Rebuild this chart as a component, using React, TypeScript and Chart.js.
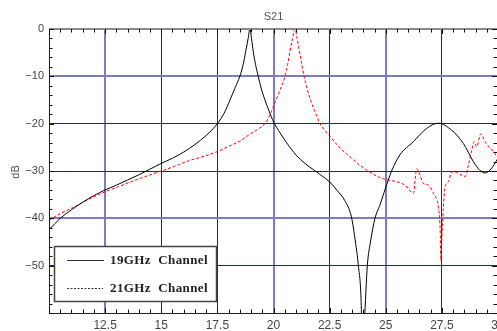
import React, { useEffect, useRef } from 'react';
import { Chart, registerables } from 'chart.js';
Chart.register(...registerables);

const chartTitle = 'S21';
const yAxisLabel = 'dB';
const seriesNames = ['19GHz Channel', '21GHz Channel'];

const xTickValues = [12.5, 15, 17.5, 20, 22.5, 25, 27.5, 30];
const yTickValues = [0, -10, -20, -30, -40, -50];

const ch19Freq = [10.0, 10.5, 11.0, 11.5, 12.0, 12.5, 13.0, 13.5, 14.0, 14.5, 15.0, 15.5, 16.0, 16.5, 17.0, 17.5, 17.8, 18.06, 18.3, 18.5, 18.65, 18.76, 18.87, 18.95, 19.02, 19.1, 19.2, 19.32, 19.45, 19.62, 19.8, 20.0, 20.3, 20.7, 21.0, 21.4, 21.8, 22.15, 22.5, 22.85, 23.17, 23.47, 23.65, 23.78, 23.9, 23.97, 24.05, 24.18, 24.32, 24.52, 24.74, 25.11, 25.26, 25.63, 26.23, 26.82, 27.34, 27.94, 28.46, 28.9, 29.2, 29.42, 29.65, 30.0];
const ch19Db = [-42.4, -40.0, -38.2, -36.6, -35.2, -34.0, -33.0, -31.9, -30.8, -29.6, -28.4, -27.3, -26.0, -24.4, -22.5, -20.0, -17.8, -15.0, -12.3, -10.0, -7.5, -4.8, -2.0, 0.0, -2.0, -4.8, -7.5, -10.0, -12.5, -15.0, -17.3, -19.6, -22.0, -24.8, -26.6, -28.4, -29.8, -31.0, -32.3, -34.2, -36.2, -39.7, -45.0, -50.0, -57.0, -70.0, -62.0, -50.0, -45.0, -40.0, -37.2, -31.9, -30.0, -26.6, -23.8, -21.0, -19.9, -21.4, -24.2, -28.0, -29.9, -30.4, -29.8, -27.3];

const ch21Freq = [10.0, 10.5, 11.2, 11.75, 12.5, 13.1, 13.75, 14.4, 15.0, 15.6, 16.25, 16.9, 17.5, 18.0, 18.5, 18.95, 19.3, 19.65, 19.9, 20.11, 20.3, 20.51, 20.63, 20.73, 20.85, 20.96, 21.05, 21.15, 21.25, 21.36, 21.5, 21.65, 21.82, 21.98, 22.07, 22.5, 23.0, 23.41, 23.8, 24.22, 24.74, 25.11, 25.34, 25.86, 26.23, 26.38, 26.53, 26.67, 26.9, 27.12, 27.34, 27.42, 27.46, 27.5, 27.56, 27.64, 27.79, 27.94, 28.16, 28.53, 28.68, 28.83, 28.94, 29.05, 29.23, 29.47, 29.8, 30.0];
const ch21Db = [-40.4, -39.0, -37.4, -36.0, -34.4, -33.3, -32.1, -31.0, -30.0, -29.0, -27.8, -26.9, -25.9, -24.8, -23.7, -22.2, -21.2, -19.8, -17.5, -15.0, -12.8, -10.0, -7.5, -4.8, -2.0, 0.0, -2.0, -4.5, -7.2, -10.0, -12.7, -15.0, -17.2, -19.0, -20.0, -22.6, -25.3, -27.0, -28.6, -30.0, -31.4, -31.9, -32.1, -33.0, -34.7, -29.5, -30.9, -32.6, -33.0, -34.7, -37.6, -42.0, -49.0, -44.0, -38.3, -33.3, -32.3, -30.2, -30.3, -31.2, -28.8, -25.6, -23.8, -24.9, -22.2, -24.2, -25.9, -27.3];

const lightX = [12.5, 20, 25];
const lightY = [-10, -40];

const GRID_DARK = '#1c1ca6';
const GRID_LIGHT = '#7c7cc0';
const LABEL_COLOR = '#444444';

const decorPlugin = {
  id: 'decor',
  afterDraw(chart: any) {
    const ctx = chart.ctx;
    const { left, right, top, bottom } = chart.chartArea;
    const xs = chart.scales.x;
    const ys = chart.scales.y;
    ctx.save();
    // frame
    ctx.strokeStyle = '#222';
    ctx.lineWidth = 1;
    ctx.beginPath();
    ctx.moveTo(left + 0.5, top);
    ctx.lineTo(left + 0.5, bottom + 0.5);
    ctx.lineTo(right, bottom + 0.5);
    ctx.stroke();
    ctx.strokeStyle = '#8c8c8c';
    ctx.lineWidth = 2;
    ctx.beginPath();
    ctx.moveTo(left, top);
    ctx.lineTo(right, top);
    ctx.stroke();
    // ticks
    ctx.strokeStyle = '#111';
    ctx.lineWidth = 1;
    ctx.beginPath();
    for (let i = 0; i <= 40; i++) {
      const v = 10 + i * 0.5;
      const px = Math.round(xs.getPixelForValue(v)) + 0.5;
      const len = i % 5 === 0 ? 5 : 3.5;
      ctx.moveTo(px, bottom);
      ctx.lineTo(px, bottom - len);
      ctx.moveTo(px, top);
      ctx.lineTo(px, top + len);
    }
    for (let i = 0; i <= 30; i++) {
      const v = -60 + i * 2;
      const py = Math.round(ys.getPixelForValue(v)) + 0.5;
      const len = i % 5 === 0 ? 5 : 3.5;
      ctx.moveTo(left, py);
      ctx.lineTo(left + len, py);
      ctx.moveTo(right - 1, py);
      ctx.lineTo(right - 1 - len, py);
    }
    ctx.stroke();
    // title
    ctx.fillStyle = '#555';
    ctx.font = '11px "Liberation Sans", Arial, sans-serif';
    ctx.textAlign = 'center';
    ctx.textBaseline = 'middle';
    ctx.fillText(chartTitle, (left + right) / 2, 16.5);
    // y label
    ctx.save();
    ctx.translate(15.5, 172);
    ctx.rotate(-Math.PI / 2);
    ctx.fillText(yAxisLabel, 0, 0);
    ctx.restore();
    // legend
    const bx = 54, by = 246, bw = 162, bh = 55;
    ctx.fillStyle = '#ffffff';
    ctx.fillRect(bx, by, bw, bh);
    ctx.strokeStyle = '#444';
    ctx.lineWidth = 1.5;
    ctx.strokeRect(bx + 0.5, by + 0.5, bw, bh);
    ctx.lineWidth = 1;
    ctx.strokeStyle = '#333';
    ctx.beginPath();
    ctx.moveTo(67, 260.5);
    ctx.lineTo(104, 260.5);
    ctx.stroke();
    ctx.setLineDash([2, 1.5]);
    ctx.beginPath();
    ctx.moveTo(67, 288.5);
    ctx.lineTo(103, 288.5);
    ctx.stroke();
    ctx.setLineDash([]);
    ctx.fillStyle = '#222';
    ctx.textAlign = 'left';
    ctx.font = 'bold 13px "Liberation Serif", "Times New Roman", serif';
    try {
      (ctx as any).letterSpacing = '0.4px';
    } catch (e) {}
    ctx.fillText(seriesNames[0].replace(' ', '  '), 110, 261);
    ctx.fillText(seriesNames[1].replace(' ', '  '), 110, 289);
    ctx.restore();
  },
};

export default function App() {
  const ref = useRef<HTMLCanvasElement>(null);
  useEffect(() => {
    if (!ref.current) return;
    const chart = new Chart(ref.current, {
      type: 'scatter',
      data: {
        datasets: [
          {
            label: seriesNames[0],
            data: ch19Freq.map((f, i) => ({ x: f, y: ch19Db[i] })),
            showLine: true,
            borderColor: '#000000',
            borderWidth: 1,
            pointRadius: 0,
            cubicInterpolationMode: 'monotone',
          },
          {
            label: seriesNames[1],
            data: ch21Freq.map((f, i) => ({ x: f, y: ch21Db[i] })),
            showLine: true,
            borderColor: '#ff0000',
            borderWidth: 1,
            borderDash: [3, 2],
            pointRadius: 0,
            cubicInterpolationMode: 'monotone',
          },
        ],
      } as any,
      options: {
        animation: false,
        responsive: false,
        devicePixelRatio: 1,
        layout: { padding: { top: 29, right: 22, left: 0, bottom: 0 } },
        plugins: { legend: { display: false }, title: { display: false }, tooltip: { enabled: false } },
        scales: {
          x: {
            type: 'linear',
            min: 10,
            max: 30,
            afterBuildTicks: (s: any) => {
              s.ticks = xTickValues.map((v) => ({ value: v }));
            },
            afterFit: (s: any) => {
              s.height = 18;
            },
            border: { display: false },
            grid: {
              drawTicks: false,
              color: (c: any) => (c.tick && lightX.includes(c.tick.value) ? GRID_LIGHT : GRID_DARK),
              lineWidth: (c: any) => (c.tick && lightX.includes(c.tick.value) ? 2 : 1),
            },
            ticks: {
              autoSkip: false,
              maxRotation: 0,
              padding: 5,
              color: LABEL_COLOR,
              font: { family: '"Liberation Sans", Arial, sans-serif', size: 12 },
              callback: (v: any) => String(v),
            },
          },
          y: {
            type: 'linear',
            min: -60,
            max: 0,
            afterBuildTicks: (s: any) => {
              s.ticks = yTickValues.map((v) => ({ value: v }));
            },
            afterFit: (s: any) => {
              s.width = 49;
            },
            border: { display: false },
            grid: {
              drawTicks: false,
              color: (c: any) =>
                c.tick && c.tick.value === 0 ? 'rgba(0,0,0,0)' : c.tick && lightY.includes(c.tick.value) ? GRID_LIGHT : GRID_DARK,
              lineWidth: (c: any) => (c.tick && lightY.includes(c.tick.value) ? 2 : 1),
            },
            ticks: {
              padding: 5,
              color: LABEL_COLOR,
              font: { family: '"Liberation Sans", Arial, sans-serif', size: 11 },
              callback: (v: any) => (v < 0 ? '\u2212' + Math.abs(v) : String(v)),
            },
          },
        },
      } as any,
      plugins: [decorPlugin],
    });
    return () => chart.destroy();
  }, []);
  return (
    <div style={{ position: 'fixed', left: 0, top: 0, width: 497, height: 331, overflow: 'hidden', background: '#fff' }}>
      <canvas ref={ref} width={520} height={331} style={{ display: 'block', width: 520, height: 331 }} />
    </div>
  );
}
